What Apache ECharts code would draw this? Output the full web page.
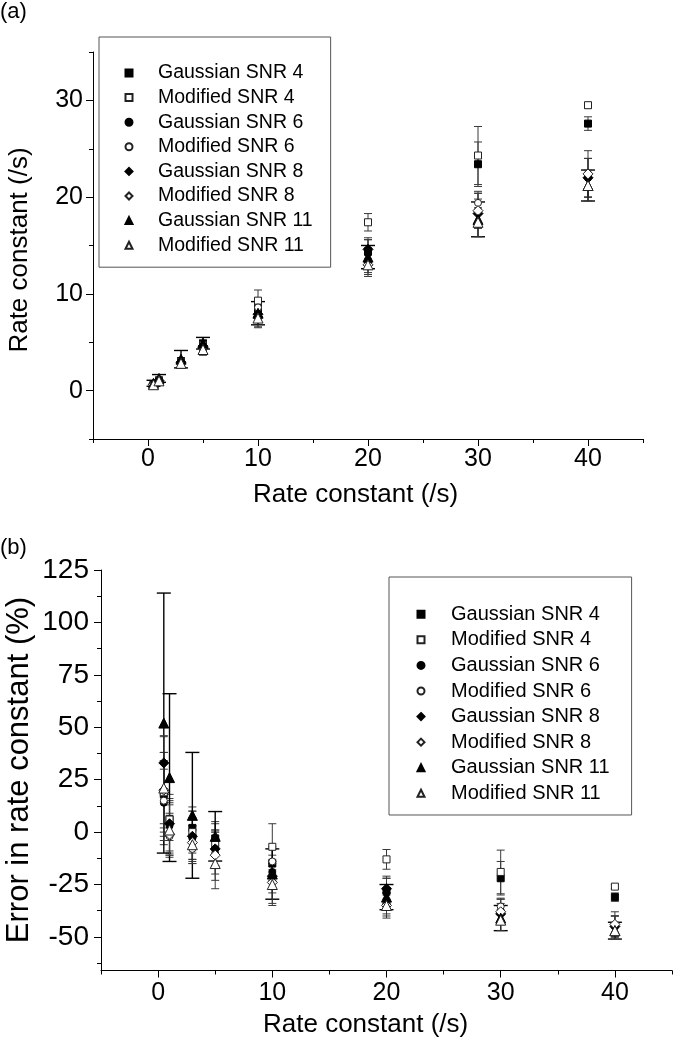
<!DOCTYPE html>
<html><head><meta charset="utf-8">
<script src="https://cdn.jsdelivr.net/npm/echarts@6/dist/echarts.min.js"></script>
<style>html,body{margin:0;padding:0;background:#fff}#c{width:673px;height:1050px}</style>
</head><body><div id="c"></div>
<script>
// ---------- data ----------
const rates = [0.5, 1, 3, 5, 10, 20, 30, 40];
const seriesNames = ['Gaussian SNR 4','Modified SNR 4','Gaussian SNR 6','Modified SNR 6','Gaussian SNR 8','Modified SNR 8','Gaussian SNR 11','Modified SNR 11'];
const symbols = ['rect','rect','circle','circle','diamond','diamond','triangle','triangle'];
const filled = [true,false,true,false,true,false,true,false];

// panel (a): fitted rate constant (/s) and error bars
const aG4  = [0.59, 1.06, 3.06, 4.85, 8.5, 14.4, 23.4, 27.6];
const aM4  = [0.60, 1.06, 3.00, 4.70, 9.3, 17.4, 24.3, 29.5];
const aG6  = [0.57, 1.03, 2.91, 4.60, 8.1, 14.2, 18.6, 22.0];
const aM6  = [0.58, 0.98, 2.76, 4.50, 8.6, 13.2, 19.4, 22.4];
const aG8  = [0.67, 1.04, 2.94, 4.60, 7.9, 14.6, 18.3, 22.0];
const aM8  = [0.60, 0.99, 2.85, 4.45, 7.6, 13.0, 18.6, 22.4];
const aG11 = [0.76, 1.26, 3.25, 4.90, 8.0, 13.8, 17.7, 21.2];
const aM11 = [0.61, 1.01, 2.82, 4.25, 7.5, 13.0, 17.4, 21.2];
const aG4e  = [0.10, 0.10, 0.30, 0.40, 0.8, 1.2, 2.3, 0.7];
const aM4e  = [0.08, 0.08, 0.30, 0.50, 1.1, 0.9, 3.0, 0.3];
const aG6e  = [0.10, 0.12, 0.30, 0.40, 0.8, 1.6, 1.8, 2.0];
const aM6e  = [0.08, 0.10, 0.20, 0.50, 0.6, 1.0, 1.2, 2.4];
const aG8e  = [0.06, 0.14, 0.36, 0.45, 0.8, 1.0, 1.5, 2.0];
const aM8e  = [0.09, 0.10, 0.24, 0.60, 1.0, 1.2, 1.8, 1.6];
const aG11e = [0.31, 0.40, 0.90, 0.60, 1.2, 1.2, 1.8, 1.6];
const aM11e = [0.12, 0.12, 0.27, 0.60, 1.0, 1.0, 1.5, 1.6];

// panel (b): error in rate constant (%) and error bars
const bG4  = [18, 6, 2, -3, -15, -28, -22, -31];
const bM4  = [19, 6, 0, -6, -7, -13, -19, -26];
const bG6  = [14, 3, -3, -8, -19, -29, -38, -45];
const bM6  = [15, -2, -8, -10, -14, -34, -35.5, -44];
const bG8  = [33, 4, -2, -8, -21, -27, -39, -45];
const bM8  = [20, -1, -5, -11, -24, -35, -38, -44];
const bG11 = [52, 26, 8, -2, -20, -31, -41, -47];
const bM11 = [21, 1, -6, -15, -25, -35, -42, -47];
const bG4e  = [20, 10, 10, 8, 8, 6, 8, 2];
const bM4e  = [15, 8, 10, 10, 11, 4.7, 10.4, 1];
const bG6e  = [20, 12, 10, 8, 8, 8, 6, 5];
const bM6e  = [15, 10, 7, 10, 6, 5, 4, 6];
const bG8e  = [12.5, 14, 12, 9, 8, 5, 5, 5];
const bM8e  = [18, 10, 8, 12, 10, 6, 6, 4];
const bG11e = [62, 40, 30, 11.8, 12, 6, 6, 4];
const bM11e = [25, 12, 9, 12, 10, 5, 5, 4];

const xMajor = [0, 10, 20, 30, 40];
const xMinor = [-5, 5, 15, 25, 35, 45];
const aYMajor = [0, 10, 20, 30];
const aYMinor = [-5, 5, 15, 25, 35];
const bYMajor = [-50, -25, 0, 25, 50, 75, 100, 125];
const bYMinor = [-62.5, -37.5, -12.5, 12.5, 37.5, 62.5, 87.5, 112.5];

const panelA = [aG4, aM4, aG6, aM6, aG8, aM8, aG11, aM11];
const panelAErr = [aG4e, aM4e, aG6e, aM6e, aG8e, aM8e, aG11e, aM11e];
const panelB = [bG4, bM4, bG6, bM6, bG8, bM8, bG11, bM11];
const panelBErr = [bG4e, bM4e, bG6e, bM6e, bG8e, bM8e, bG11e, bM11e];

// ---------- chart ----------
const FONT = 'Liberation Sans, Arial, sans-serif';
const symSize = {rect: 7, circle: 7, diamond: 10, triangle: 10};

function axisPair(gridIndex, min, max, major, minor, pos, fs, margin) {
  const main = {
    type: 'value', gridIndex, min, max, position: pos,
    axisLine: {show: true, onZero: false, lineStyle: {color: '#000', width: 1}},
    axisTick: {show: true, length: 7, customValues: major, lineStyle: {color: '#000', width: 1}},
    axisLabel: {show: true, customValues: major, fontSize: fs, fontFamily: FONT, color: '#000', margin},
    splitLine: {show: false}
  };
  const mn = {
    type: 'value', gridIndex, min, max, position: pos,
    axisLine: {show: false, onZero: false},
    axisTick: {show: true, length: 4, customValues: minor, lineStyle: {color: '#000', width: 1}},
    axisLabel: {show: false},
    splitLine: {show: false}
  };
  return [main, mn];
}

function errRender(capW, stroke, lw) {
  return function (params, api) {
    const x = api.value(0), lo = api.value(1), hi = api.value(2);
    const p1 = api.coord([x, hi]), p2 = api.coord([x, lo]);
    const w = capW / 2;
    const st = {stroke, lineWidth: lw};
    return {type: 'group', children: [
      {type: 'line', shape: {x1: p1[0], y1: p1[1], x2: p2[0], y2: p2[1]}, style: st},
      {type: 'line', shape: {x1: p1[0] - w, y1: p1[1], x2: p1[0] + w, y2: p1[1]}, style: st},
      {type: 'line', shape: {x1: p2[0] - w, y1: p2[1], x2: p2[0] + w, y2: p2[1]}, style: st}
    ]};
  };
}

const series = [];
function addPanel(vals, errs, xi, yi) {
  for (let s = 0; s < 8; s++) {
    const thick = s === 6;
    series.push({
      type: 'custom', silent: true, animation: false, z: 2,
      xAxisIndex: xi, yAxisIndex: yi,
      data: rates.map((x, i) => [x, vals[s][i] - errs[s][i], vals[s][i] + errs[s][i]]),
      encode: {x: 0, y: [1, 2]},
      renderItem: errRender(thick ? 14 : 8, thick ? '#000' : '#3a3a3a', thick ? 1.4 : 1)
    });
  }
  for (let s = 0; s < 8; s++) {
    series.push({
      type: 'scatter', name: seriesNames[s], silent: true, animation: false, z: 3,
      xAxisIndex: xi, yAxisIndex: yi,
      symbol: symbols[s], symbolSize: symSize[symbols[s]],
      data: rates.map((x, i) => [x, vals[s][i]]),
      itemStyle: {color: filled[s] ? '#000' : '#fff', borderColor: filled[s] ? '#000' : '#222', borderWidth: 1, opacity: 1}
    });
  }
}
addPanel(panelA, panelAErr, 0, 0);
addPanel(panelB, panelBErr, 2, 2);

function legendCfg(left, top, pad, gap, fs, textPad) {
  return {
    orient: 'vertical', left, top, padding: pad, itemGap: gap,
    itemWidth: 7, itemHeight: 7, selectedMode: false,
    borderColor: '#555', borderWidth: 1, backgroundColor: '#fff',
    data: seriesNames,
    textStyle: {fontSize: fs, fontFamily: FONT, color: '#000', lineHeight: 20, padding: [0, 0, 0, textPad]}
  };
}

const option = {
  animation: false,
  backgroundColor: '#fff',
  grid: [
    {left: 93, top: 52, width: 550, height: 387},
    {left: 101, top: 570, width: 571, height: 400.5}
  ],
  xAxis: [
    ...axisPair(0, -5, 45, xMajor, xMinor, 'bottom', 25, 8),
    ...axisPair(1, -5, 45, xMajor, xMinor, 'bottom', 25, 10)
  ],
  yAxis: [
    ...axisPair(0, -5, 35, aYMajor, aYMinor, 'left', 25, 10),
    ...axisPair(1, -66, 125, bYMajor, bYMinor, 'left', 28, 12)
  ],
  legend: [
    legendCfg(99, 37, [26, 18, 12, 25.5], 4.6, 19.5, 20.5),
    legendCfg(389, 577, [27.3, 22, 11.7, 27.5], 5.57, 20, 21.5)
  ],
  graphic: [
    {type: 'text', left: 0, top: 1, style: {text: '(a)', fontSize: 22, fontFamily: FONT, fill: '#000'}},
    {type: 'text', left: 0, top: 537, style: {text: '(b)', fontSize: 22, fontFamily: FONT, fill: '#000'}},
    {type: 'text', x: 253, y: 495, style: {text: 'Rate constant (/s)', fontSize: 26, fontFamily: FONT, fill: '#000', verticalAlign: 'middle'}},
    {type: 'text', x: 263, y: 1025, style: {text: 'Rate constant (/s)', fontSize: 26, fontFamily: FONT, fill: '#000', verticalAlign: 'middle'}},
    {type: 'text', x: 20, y: 250, rotation: Math.PI / 2, style: {text: 'Rate constant (/s)', fontSize: 26, fontFamily: FONT, fill: '#000', align: 'center', verticalAlign: 'middle'}},
    {type: 'text', x: 19, y: 770, rotation: Math.PI / 2, style: {text: 'Error in rate constant (%)', fontSize: 31, fontFamily: FONT, fill: '#000', align: 'center', verticalAlign: 'middle'}}
  ],
  series
};
const chart = echarts.init(document.getElementById('c'), null, {renderer: 'canvas'});
chart.setOption(option);
</script></body></html>
